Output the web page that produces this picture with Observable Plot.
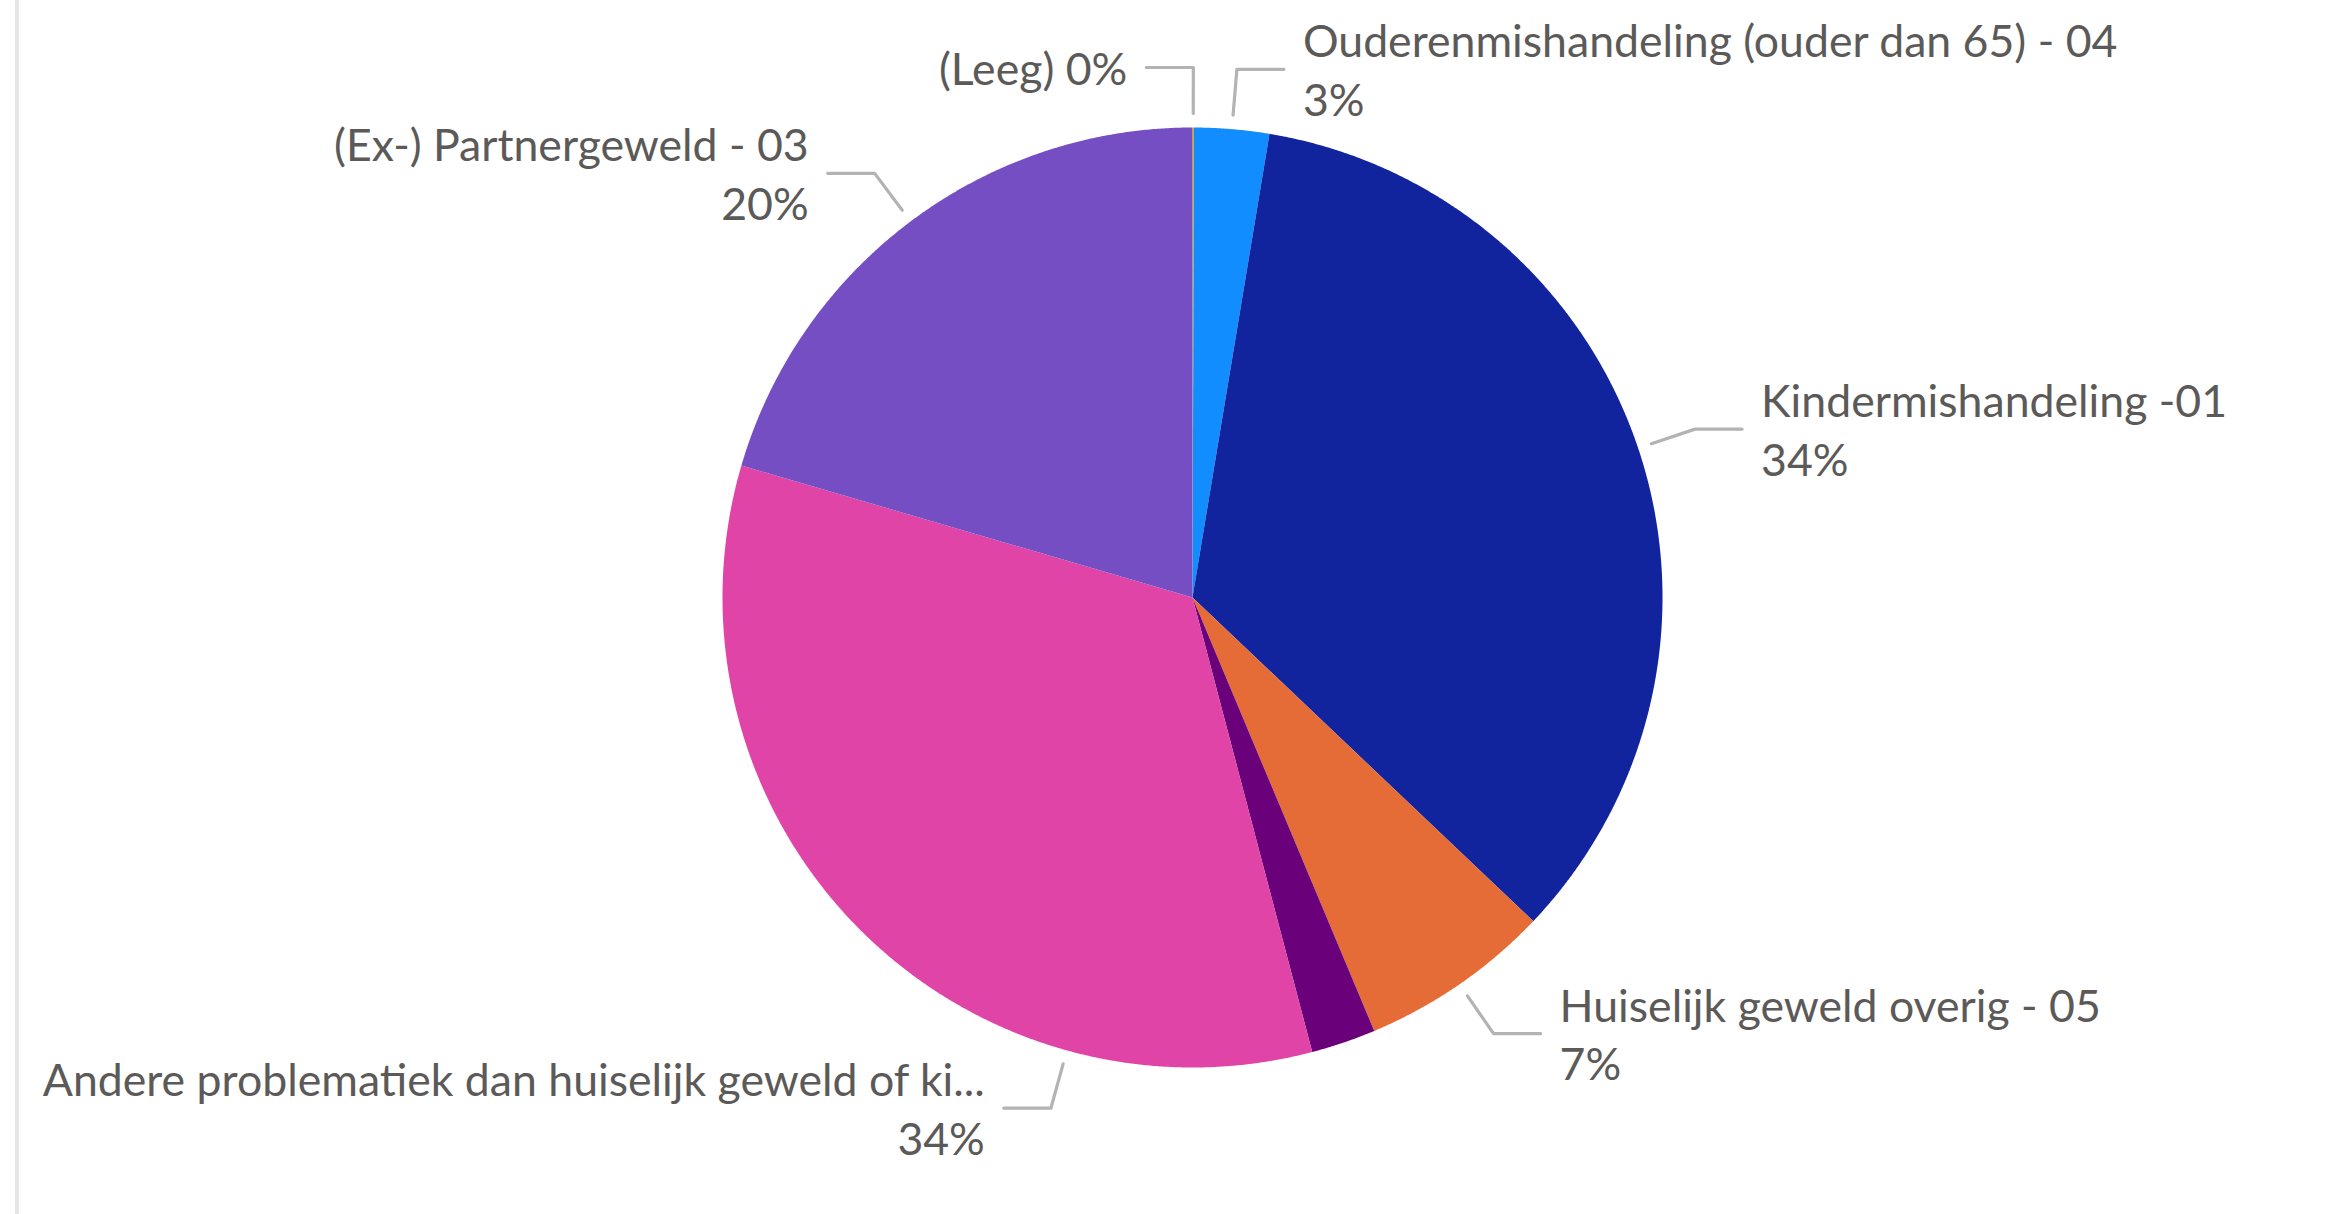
<!DOCTYPE html>
<html>
<head>
<meta charset="utf-8">
<script src="https://cdn.jsdelivr.net/npm/d3@7"></script>
<script src="https://cdn.jsdelivr.net/npm/@observablehq/plot@0.6"></script>
<style>
  html, body { margin: 0; padding: 0; background: #ffffff; }
  #wrap { position: relative; width: 2336px; height: 1214px; overflow: hidden; }
  #wrap::before { content: ""; position: absolute; left: 15px; top: 0; width: 4px; height: 100%; background: #e6e6e6; }
  #wrap svg { position: absolute; left: 0; top: 0; }
</style>
</head>
<body>
<div id="wrap"></div>
<script>
// ---- data (clockwise from 12 o'clock) ----
const categories = [
  "(Leeg)",
  "Ouderenmishandeling (ouder dan 65) - 04",
  "Kindermishandeling -01",
  "Huiselijk geweld overig - 05",
  "Overig - 02",
  "Andere problematiek dan huiselijk geweld of ki...",
  "(Ex-) Partnergeweld - 03"
];
const shares = [0.05, 2.57, 34.47, 6.59, 2.22, 33.63, 20.47];
const colors = ["#D9B300", "#118DFF", "#12239E", "#E66C37", "#6B007B", "#E044A7", "#744EC2"];
const labelled = [true, true, true, true, false, true, true];

// ---- layout ----
const W = 2336, H = 1214, cx = 1192, cy = 597, R = 470;
const px = v => v / R;                 // pixels -> radius units
const FONT = "Lato, 'Open Sans', sans-serif";
const FONT_SIZE = 44.6;
const TEXT_COLOR = "#5C5A58";
const LINE_COLOR = "#B3B3B3";
// label placement tweaks (Power BI moved some labels to avoid collisions)
const labelAngleOverride = {5: 195.5 * Math.PI / 180};
const labelSideOverride = {0: -1};
const inlineLabel = {0: true};

const total = d3.sum(shares);
const arcs = d3.pie().sort(null).value(d => d)(shares);

// slice polygons
const slicePts = [];
arcs.forEach((a, i) => {
  const cat = categories[i];
  slicePts.push({cat, x: 0, y: 0});
  const n = Math.max(2, Math.ceil((a.endAngle - a.startAngle) / (Math.PI / 720)));
  for (let k = 0; k <= n; k++) {
    const t = a.startAngle + (a.endAngle - a.startAngle) * k / n;
    slicePts.push({cat, x: Math.sin(t), y: Math.cos(t)});
  }
  slicePts.push({cat, x: 0, y: 0});
});

// leader lines + labels
const leaderPts = [];
const labelsR = [], labelsL = [];
arcs.forEach((a, i) => {
  if (!labelled[i]) return;
  const ang = labelAngleOverride[i] ?? (a.startAngle + a.endAngle) / 2;
  const side = labelSideOverride[i] ?? (Math.sin(ang) >= 0 ? 1 : -1);
  const r0 = 1 + px(14), r1 = 1 + px(60);
  const p0 = [r0 * Math.sin(ang), r0 * Math.cos(ang)];
  const p1 = [r1 * Math.sin(ang), r1 * Math.cos(ang)];
  const p2 = [p1[0] + side * px(47), p1[1]];
  [p0, p1, p2].forEach(p => leaderPts.push({id: i, x: p[0], y: p[1]}));
  const pct = Math.round(shares[i] / total * 100) + "%";
  const text = inlineLabel[i] ? `${categories[i]} ${pct}` : `${categories[i]}\n${pct}`;
  const lab = {x: p2[0] + side * px(19), y: p2[1] + px(1.5), text};
  (side > 0 ? labelsR : labelsL).push(lab);
});

const plot = Plot.plot({
  width: W,
  height: H,
  margin: 0,
  x: {domain: [-cx / R, (W - cx) / R], axis: null},
  y: {domain: [-(H - cy) / R, cy / R], axis: null},
  color: {domain: categories, range: colors},
  style: {fontFamily: FONT, background: "transparent", overflow: "visible"},
  marks: [
    Plot.line(slicePts, {x: "x", y: "y", z: "cat", fill: "cat", stroke: "none", curve: "linear"}),
    Plot.line(leaderPts, {x: "x", y: "y", z: "id", stroke: LINE_COLOR, strokeWidth: 3.2, curve: "linear"}),
    Plot.text(labelsR, {x: "x", y: "y", text: "text", textAnchor: "start", fontSize: FONT_SIZE, lineHeight: 1.32, fill: TEXT_COLOR}),
    Plot.text(labelsL, {x: "x", y: "y", text: "text", textAnchor: "end", fontSize: FONT_SIZE, lineHeight: 1.32, fill: TEXT_COLOR})
  ]
});
document.getElementById("wrap").appendChild(plot);
</script>
</body>
</html>
